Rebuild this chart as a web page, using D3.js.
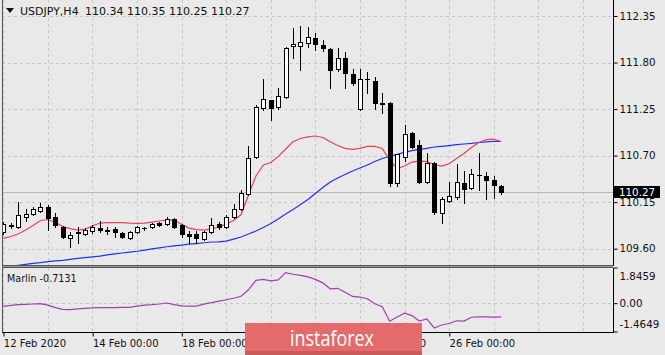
<!DOCTYPE html>
<html><head><meta charset="utf-8">
<script src="https://cdn.jsdelivr.net/npm/d3@7"></script>
<style>
body{margin:0;background:#e9e9e9;}
svg{display:block;font-family:"DejaVu Sans",sans-serif;}
</style>
</head><body><svg id="c" width="665" height="355"></svg>
<script>
// ---- data (H4 bars, USDJPY) ----
const symbolTitle = "USDJPY,H4";
const lastQuote = "110.34 110.35 110.25 110.27";
const open  = [109.80,109.87,109.86,109.97,110.01,110.05,110.09,109.97,109.86,109.73,109.80,109.77,109.81,109.84,109.82,109.83,109.785,109.73,109.80,109.85,109.86,109.90,109.89,109.95,109.88,109.77,109.77,109.71,109.80,109.89,109.86,109.97,110.07,110.25,110.68,111.26,111.36,111.27,111.39,111.995,111.995,112.03,112.09,112.01,111.96,111.72,111.85,111.66,111.25,111.605,111.58,111.32,111.32,110.38,110.68,110.97,110.82,110.39,110.61,110.02,110.16,110.21,110.38,110.32,110.47,110.46,110.41,110.34];
const high  = [109.92,109.90,110.15,110.07,110.09,110.14,110.12,110.02,109.87,109.80,109.86,109.84,109.88,109.93,109.86,109.86,109.80,109.81,109.87,109.86,109.90,109.915,109.97,109.96,109.89,109.81,109.81,109.81,109.96,109.915,110.00,110.13,110.29,110.81,111.30,111.60,111.36,111.50,111.98,112.21,112.23,112.22,112.15,112.07,111.97,111.97,111.92,111.72,111.72,111.69,111.63,111.44,111.33,110.72,111.06,110.98,110.88,110.73,110.62,110.21,110.39,110.60,110.52,110.54,110.73,110.51,110.46,110.35];
const low   = [109.77,109.84,109.84,109.93,110.00,110.03,109.82,109.86,109.73,109.62,109.67,109.76,109.79,109.80,109.77,109.74,109.73,109.71,109.785,109.82,109.84,109.87,109.88,109.84,109.74,109.67,109.67,109.70,109.785,109.83,109.84,109.96,110.06,110.23,110.67,111.24,111.12,111.25,111.38,111.85,111.71,111.98,111.95,111.94,111.50,111.70,111.50,111.53,111.24,111.44,111.25,111.20,110.34,110.34,110.64,110.79,110.38,110.38,110.01,109.90,110.15,110.19,110.14,110.305,110.29,110.19,110.20,110.25];
const close = [109.89,109.88,110.00,110.01,110.07,110.09,109.96,109.88,109.74,109.76,109.79,109.82,109.86,109.82,109.815,109.80,109.74,109.80,109.86,109.845,109.89,109.88,109.95,109.86,109.77,109.75,109.73,109.80,109.88,109.86,109.97,110.07,110.26,110.67,111.27,111.37,111.26,111.40,111.97,112.02,112.04,112.10,112.02,111.97,111.71,111.85,111.68,111.56,111.605,111.60,111.32,111.31,110.38,110.72,110.96,110.80,110.39,110.61,110.03,110.19,110.22,110.39,110.30,110.48,110.47,110.41,110.35,110.27];
// moving averages (one value per bar)
const maFast = [109.722,109.744,109.773,109.820,109.874,109.933,109.945,109.909,109.862,109.838,109.820,109.832,109.868,109.903,109.909,109.909,109.909,109.903,109.900,109.903,109.915,109.927,109.939,109.941,109.885,109.844,109.826,109.820,109.832,109.856,109.891,109.933,110.004,110.234,110.459,110.589,110.618,110.689,110.778,110.864,110.902,110.922,110.932,110.914,110.864,110.819,110.786,110.774,110.786,110.810,110.810,110.784,110.648,110.547,110.577,110.624,110.638,110.630,110.595,110.577,110.604,110.666,110.725,110.796,110.855,110.890,110.896,110.867];
const maSlow = [109.371,109.389,109.403,109.415,109.427,109.436,109.447,109.456,109.463,109.474,109.485,109.495,109.504,109.513,109.527,109.538,109.549,109.560,109.570,109.584,109.598,109.610,109.623,109.634,109.643,109.653,109.661,109.670,109.679,109.681,109.690,109.714,109.738,109.773,109.809,109.850,109.897,109.950,110.010,110.063,110.122,110.181,110.252,110.323,110.388,110.435,110.476,110.518,110.553,110.589,110.630,110.666,110.692,110.715,110.739,110.758,110.774,110.786,110.802,110.810,110.819,110.829,110.837,110.845,110.855,110.863,110.870,110.867];
const marlin = [-0.164,-0.118,-0.077,-0.062,-0.041,-0.026,-0.103,-0.231,-0.323,-0.333,-0.292,-0.267,-0.246,-0.231,-0.231,-0.226,-0.221,-0.215,-0.154,-0.103,-0.077,-0.041,0.010,-0.077,-0.138,-0.154,-0.154,-0.051,0.026,0.103,0.179,0.256,0.359,0.692,1.179,1.231,1.154,1.205,1.579,1.497,1.436,1.359,1.231,1.051,0.744,0.769,0.564,0.349,0.318,0.231,-0.026,-0.179,-0.933,-0.718,-0.513,-0.641,-0.923,-0.810,-1.282,-1.128,-1.051,-0.908,-0.923,-0.728,-0.708,-0.708,-0.718,-0.7131];
const priceTicks = [112.35,111.80,111.25,110.70,110.15,109.60];
const marlinTicks = [1.8459,0.00,-1.4649];
const marlinTickLabels = ["1.8459","0.00","-1.4649"];
const dateTickIdx = [0,12,24,36,48,60];
const dateTickLabels = ["12 Feb 2020","14 Feb 00:00","18 Feb 00:00","20 Feb 00:00","24 Feb 00:00","26 Feb 00:00"];
const lastPrice = 110.27;
const marlinLast = "-0.7131";

// ---- layout ----
const plotL=2, plotR=613, mainT=0, mainB=265, indT=268, indB=332;
const svg=d3.select("#c");
const x=d3.scaleLinear().domain([0,82]).range([3.3,3.3+7.43*82]);
const y=d3.scaleLinear().domain([109.60,112.35]).range([248.7,16]);
const yi=d3.scaleLinear().domain([-1.4649,1.8459]).range([331.5,267.5]);
const px=v=>Math.round(v)+0.5;

svg.append("rect").attr("width",665).attr("height",355).attr("fill","#e9e9e9");
const defs=svg.append("defs");
defs.append("clipPath").attr("id","cm").append("rect").attr("x",plotL).attr("y",mainT).attr("width",plotR-plotL).attr("height",mainB-mainT);
defs.append("clipPath").attr("id","ci").append("rect").attr("x",plotL).attr("y",indT).attr("width",plotR-plotL).attr("height",indB-indT);

const gridIdx=d3.range(0,82,6);
const gridC="#c6c6c6";
// main grid
const gm=svg.append("g").attr("clip-path","url(#cm)");
gm.selectAll(".vg").data(gridIdx).join("line").attr("x1",d=>px(x(d))).attr("x2",d=>px(x(d))).attr("y1",mainT).attr("y2",mainB)
  .attr("stroke",gridC).attr("stroke-dasharray","3,3");
gm.selectAll(".hg").data(priceTicks).join("line").attr("x1",plotL).attr("x2",plotR).attr("y1",d=>px(y(d))).attr("y2",d=>px(y(d)))
  .attr("stroke",gridC).attr("stroke-dasharray","3,3");
// current price line
gm.append("line").attr("x1",plotL).attr("x2",plotR).attr("y1",px(y(lastPrice))).attr("y2",px(y(lastPrice))).attr("stroke","#b8b8b8");

// moving averages
const idx=d3.range(open.length);
const lineF=d3.line().x(i=>x(i)).y(i=>y(maFast[i]));
const lineS=d3.line().x(i=>x(i)).y(i=>y(maSlow[i]));
gm.append("path").attr("d",lineS(idx)).attr("fill","none").attr("stroke","#2430f0").attr("stroke-width",1.2);
gm.append("path").attr("d",lineF(idx)).attr("fill","none").attr("stroke","#e8405c").attr("stroke-width",1.2);

// candles
const cg=gm.append("g");
idx.forEach(i=>{
  const cx=Math.round(x(i));
  cg.append("line").attr("x1",cx+0.5).attr("x2",cx+0.5).attr("y1",Math.round(y(high[i]))).attr("y2",Math.round(y(low[i]))+1).attr("stroke","#000");
  const top=Math.round(y(Math.max(open[i],close[i]))), bot=Math.round(y(Math.min(open[i],close[i])));
  const bull=close[i]>=open[i];
  if(bot-top<2){
    cg.append("line").attr("x1",cx-2).attr("x2",cx+3).attr("y1",top+0.5).attr("y2",top+0.5).attr("stroke","#000");
    if(bot-top>=1) cg.append("line").attr("x1",cx-2).attr("x2",cx+3).attr("y1",bot+0.5).attr("y2",bot+0.5).attr("stroke","#000");
  } else {
    cg.append("rect").attr("x",cx-1.5).attr("y",top+0.5).attr("width",4).attr("height",bot-top)
      .attr("fill",bull?"#fff":"#000").attr("stroke","#000").attr("stroke-width",1);
  }
});

// indicator panel
const gi=svg.append("g").attr("clip-path","url(#ci)");
gi.selectAll(".vg").data(gridIdx).join("line").attr("x1",d=>px(x(d))).attr("x2",d=>px(x(d))).attr("y1",indT).attr("y2",indB)
  .attr("stroke",gridC).attr("stroke-dasharray","3,3");
gi.append("line").attr("x1",plotL).attr("x2",plotR).attr("y1",px(yi(0))).attr("y2",px(yi(0))).attr("stroke",gridC).attr("stroke-dasharray","3,3");
gi.append("path").attr("d",d3.line().x(i=>x(i)).y(i=>yi(marlin[i]))(idx)).attr("fill","none").attr("stroke","#a040b0").attr("stroke-width",1.2);

// frames
svg.append("line").attr("x1",2.5).attr("x2",2.5).attr("y1",0).attr("y2",indB).attr("stroke","#555");
svg.append("line").attr("x1",plotL).attr("x2",plotR).attr("y1",265.5).attr("y2",265.5).attr("stroke","#555");
svg.append("line").attr("x1",plotL).attr("x2",plotR).attr("y1",266.5).attr("y2",266.5).attr("stroke","#9a9a9a");
svg.append("line").attr("x1",plotL).attr("x2",plotR).attr("y1",267.5).attr("y2",267.5).attr("stroke","#555");

// right price axis
const ay=svg.append("g").attr("transform",`translate(${plotR+0.5},0)`)
  .call(d3.axisRight(y).tickValues(priceTicks).tickFormat(d3.format(".2f")).tickSize(4).tickPadding(2));
ay.select(".domain").remove();
ay.selectAll("text").attr("font-size",10.3).attr("fill","#111").attr("font-family","DejaVu Sans");
ay.selectAll("line").attr("stroke","#000");
svg.append("line").attr("x1",plotR+0.5).attr("x2",plotR+0.5).attr("y1",0).attr("y2",mainB+1).attr("stroke","#000");
// indicator axis
const ai=svg.append("g").attr("transform",`translate(${plotR+0.5},0)`)
  .call(d3.axisRight(yi).tickValues(marlinTicks).tickFormat((d,i)=>marlinTickLabels[i]).tickSize(4).tickPadding(2));
ai.select(".domain").remove();
ai.selectAll("text").attr("font-size",10.3).attr("fill","#111").attr("font-family","DejaVu Sans")
  .attr("y",(d,i)=>i===0?8.5:(i===2?-7.5:0));
ai.selectAll("line").attr("stroke","#000");
svg.append("line").attr("x1",plotR+0.5).attr("x2",plotR+0.5).attr("y1",indT).attr("y2",indB+1).attr("stroke","#000");

// bottom date axis
const ax=svg.append("g").attr("transform",`translate(0,${indB+0.5})`)
  .call(d3.axisBottom(x).tickValues(dateTickIdx).tickFormat((d,i)=>dateTickLabels[i]).tickSize(4).tickPadding(3));
ax.select(".domain").remove();
ax.selectAll(".tick line").attr("stroke","#000").attr("transform","translate(0.2,0)");
ax.selectAll("text").attr("text-anchor","start").attr("x",0).attr("font-size",10).attr("fill","#111").attr("font-family","DejaVu Sans");
svg.append("line").attr("x1",plotL).attr("x2",plotR+1).attr("y1",indB+0.5).attr("y2",indB+0.5).attr("stroke","#000");

// current price tag
svg.append("rect").attr("x",plotR).attr("y",Math.round(y(lastPrice))-6).attr("width",47).attr("height",12).attr("fill","#000");
svg.append("text").attr("x",plotR+6).attr("y",y(lastPrice)).attr("dy","0.35em").attr("font-size",10.3).attr("fill","#fff").text(d3.format(".2f")(lastPrice));

// titles
svg.append("path").attr("d","M6,8 L14,8 L10,13 Z").attr("fill","#111");
svg.append("text").attr("x",20).attr("y",15).attr("font-size",11).attr("fill","#111").text(symbolTitle);
svg.append("text").attr("x",85).attr("y",15).attr("font-size",11).attr("fill","#111").text(lastQuote);
svg.append("text").attr("x",7).attr("y",281.5).attr("font-size",9.6).attr("fill","#111").text("Marlin "+marlinLast);

// watermark
svg.append("rect").attr("x",245).attr("y",323).attr("width",177).attr("height",32).attr("fill","#e46b6c");
svg.append("rect").attr("x",245).attr("y",351).attr("width",177).attr("height",4).attr("fill","#c95b5c");
svg.append("text").attr("x",290).attr("y",346).attr("font-size",22).attr("font-family","Open Sans").attr("fill","#fff")
  .attr("textLength",84).attr("lengthAdjust","spacingAndGlyphs").text("instaforex");
</script>
</body></html>
